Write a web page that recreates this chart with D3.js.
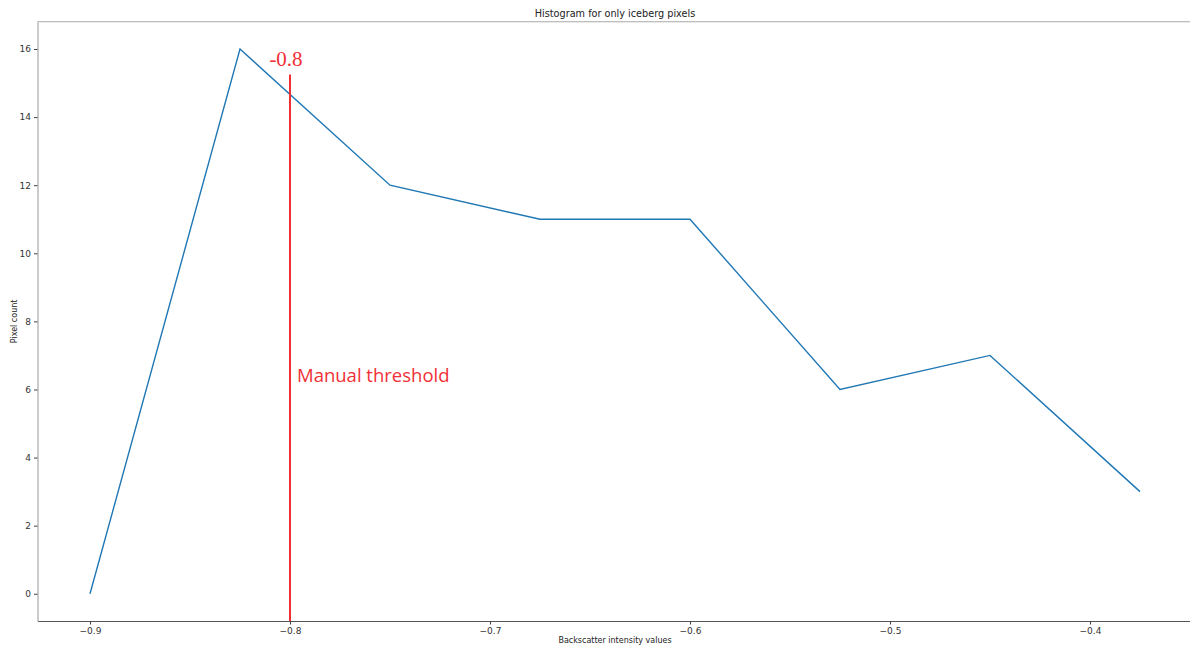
<!DOCTYPE html>
<html>
<head>
<meta charset="utf-8">
<script src="https://cdn.jsdelivr.net/npm/d3@7"></script>
<style>
  html, body { margin: 0; padding: 0; background: #fff; overflow: hidden; }
  svg { display: block; }
  text { font-family: "DejaVu Sans", sans-serif; }
</style>
</head>
<body>
<svg id="chart" width="1190" height="651"></svg>
<script>
// Histogram bin centres and pixel counts
const binCenters = [-0.9, -0.825, -0.75, -0.675, -0.6, -0.525, -0.45, -0.375];
const pixelCounts = [0, 16, 12, 11, 11, 6, 7, 3];
const xTicks = [-0.9, -0.8, -0.7, -0.6, -0.5, -0.4];
const yTicks = [0, 2, 4, 6, 8, 10, 12, 14, 16];
const threshold = -0.8;

const svg = d3.select("#chart");
const plotLeft = 37.5, plotRight = 1192.5, plotTop = 21.75, plotBottom = 621;

// Matplotlib-style 5% margins around the data
const xMin = d3.min(binCenters), xMax = d3.max(binCenters);
const xPad = (xMax - xMin) * 0.05;
const yMin = d3.min(pixelCounts), yMax = d3.max(pixelCounts);
const yPad = (yMax - yMin) * 0.05;

const x = d3.scaleLinear().domain([xMin - xPad, xMax + xPad]).range([plotLeft, plotRight]);
const y = d3.scaleLinear().domain([yMin - yPad, yMax + yPad]).range([plotBottom, plotTop]);

// Top spine (the right spine falls just past the canvas edge)
svg.append("line")
  .attr("x1", plotLeft).attr("x2", plotRight)
  .attr("y1", plotTop).attr("y2", plotTop)
  .attr("stroke", "#a8a8a8").attr("stroke-width", 1.2);

const fmt = d => (d < 0 ? "\u2212" : "") + Math.abs(d).toFixed(1);

const xAxis = svg.append("g")
  .attr("transform", `translate(0,${plotBottom})`)
  .call(d3.axisBottom(x).tickValues(xTicks).tickFormat(fmt)
    .tickSizeInner(3.5).tickSizeOuter(0).tickPadding(3));
const yAxis = svg.append("g")
  .attr("transform", `translate(${plotLeft},0)`)
  .call(d3.axisLeft(y).tickValues(yTicks).tickFormat(d3.format("d"))
    .tickSizeInner(3.5).tickSizeOuter(0).tickPadding(3));

xAxis.select(".domain").attr("stroke", "#555").attr("stroke-width", 1);
yAxis.select(".domain").attr("stroke", "#a8a8a8").attr("stroke-width", 1.2);
[xAxis, yAxis].forEach(g => {
  g.selectAll(".tick line").attr("stroke", "#444");
  g.selectAll(".tick text")
    .attr("fill", "#333")
    .style("font-family", "DejaVu Sans, sans-serif")
    .style("font-size", "9px");
});

// Count line
svg.append("path")
  .datum(binCenters.map((c, i) => [c, pixelCounts[i]]))
  .attr("fill", "none")
  .attr("stroke", "#1f77b4")
  .attr("stroke-width", 1.4)
  .attr("d", d3.line().x(d => x(d[0])).y(d => y(d[1])));

// Threshold marker
svg.append("line")
  .attr("x1", x(threshold)).attr("x2", x(threshold))
  .attr("y1", y(15.25)).attr("y2", plotBottom)
  .attr("stroke", "#f03035").attr("stroke-width", 2);

svg.append("text")
  .attr("x", x(threshold) - 4).attr("y", 66)
  .attr("text-anchor", "middle")
  .attr("fill", "#f03035")
  .attr("style", "font-family: 'Liberation Serif', 'Times New Roman', 'DejaVu Serif', serif; font-size: 21px;")
  .text("-0.8");

svg.append("text")
  .attr("x", x(threshold) + 7).attr("y", 382)
  .attr("fill", "#f03035")
  .style("font-family", "'Open Sans', sans-serif")
  .style("font-size", "18.5px")
  .text("Manual threshold");

// Titles
svg.append("text")
  .attr("x", (plotLeft + plotRight) / 2).attr("y", 17)
  .attr("text-anchor", "middle")
  .attr("fill", "#222")
  .style("font-size", "9.7px")
  .text("Histogram for only iceberg pixels");

svg.append("text")
  .attr("x", (plotLeft + plotRight) / 2).attr("y", 643)
  .attr("text-anchor", "middle")
  .attr("fill", "#222")
  .style("font-size", "8px")
  .text("Backscatter intensity values");

svg.append("text")
  .attr("transform", `translate(16.5,${(plotTop + plotBottom) / 2}) rotate(-90)`)
  .attr("text-anchor", "middle")
  .attr("fill", "#222")
  .style("font-size", "8px")
  .text("Pixel count");
</script>
</body>
</html>
